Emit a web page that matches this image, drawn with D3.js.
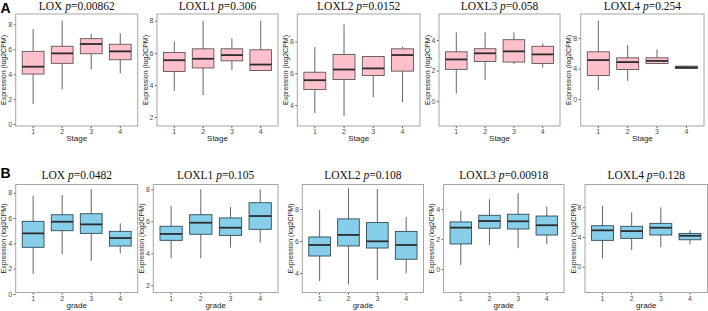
<!DOCTYPE html>
<html>
<head>
<meta charset="utf-8">
<script src="https://cdn.jsdelivr.net/npm/d3@7"></script>
<style>
  body { margin: 0; background: #fff; }
  svg { display: block; }
</style>
</head>
<body>
<svg id="chart" width="708" height="311"></svg>
<script>
// genes and p values
const genes = ["LOX", "LOXL1", "LOXL2", "LOXL3", "LOXL4"];
const stagePValues = ["0.00862", "0.306", "0.0152", "0.058", "0.254"];
const gradePValues = ["0.0482", "0.105", "0.108", "0.00918", "0.128"];
const groups = ["1", "2", "3", "4"];

// y ticks and domains per gene
const yTicks = [[0, 2, 4, 6, 8], [2, 4, 6, 8], [4, 6, 8], [0, 2, 4], [0, 4, 8]];
const stageDomains = [[-0.16, 8.83], [1.44, 8.42], [2.68, 9.72], [-1.62, 5.7], [-3.56, 11.16]];
const gradeDomains = [[0.12, 8.65], [1.55, 8.3], [2.78, 9.53], [-1.54, 5.62], [-3.47, 11.07]];

// box stats: [min, q1, median, q3, max]
const loxStage = [[1.6, 4.01, 4.6, 5.83, 7.62], [2.78, 4.87, 5.67, 6.24, 8.29], [4.39, 5.64, 6.42, 6.85, 7.22], [4.07, 5.16, 5.83, 6.4, 7.28]];
const loxl1Stage = [[3.63, 4.84, 5.54, 6.02, 6.71], [3.36, 5.06, 5.63, 6.25, 8.0], [4.92, 5.5, 5.86, 6.25, 6.9], [4.9, 4.9, 5.27, 6.19, 8.0]];
const loxl2Stage = [[3.5, 4.97, 5.56, 6.06, 7.64], [3.29, 5.6, 6.23, 7.18, 9.07], [4.5, 5.85, 6.3, 7.05, 7.07], [4.17, 6.13, 7.14, 7.53, 7.66]];
const loxl3Stage = [[0.5, 2.08, 2.73, 3.23, 4.5], [1.38, 2.6, 3.13, 3.43, 4.5], [2.43, 2.56, 3.26, 4.02, 4.5], [2.18, 2.47, 3.06, 3.59, 3.78]];
const loxl4Stage = [[1.15, 3.08, 5.1, 6.19, 10.28], [2.37, 3.87, 4.84, 5.4, 7.07], [4.66, 4.66, 5.0, 5.4, 6.5], [4.0, 4.0, 4.14, 4.31, 4.35]];

const loxGrade = [[1.58, 3.69, 4.79, 5.74, 7.74], [3.16, 5.0, 5.71, 6.26, 7.82], [2.61, 4.79, 5.5, 6.34, 8.29], [3.21, 3.79, 4.42, 4.95, 5.58]];
const loxl1Grade = [[3.69, 4.81, 5.21, 5.69, 6.96], [3.69, 5.19, 5.91, 6.41, 8.0], [4.35, 5.12, 5.6, 6.21, 6.89], [4.66, 5.5, 6.33, 7.16, 8.0]];
const loxl2Grade = [[3.5, 5.06, 5.75, 6.25, 7.94], [3.29, 5.69, 6.38, 7.38, 9.29], [3.56, 5.56, 5.98, 7.15, 9.25], [3.98, 4.86, 5.75, 6.6, 7.5]];
const loxl3Grade = [[0.29, 1.68, 2.76, 3.14, 3.87], [1.61, 2.72, 3.2, 3.58, 4.64], [1.39, 2.67, 3.18, 3.65, 5.04], [1.66, 2.27, 2.92, 3.53, 4.15]];
const loxl4Grade = [[1.13, 3.55, 4.9, 5.52, 8.21], [2.25, 3.82, 4.8, 5.44, 7.32], [2.61, 4.27, 5.25, 5.84, 7.99], [3.01, 3.63, 4.17, 4.49, 4.94]];

const stageStats = [loxStage, loxl1Stage, loxl2Stage, loxl3Stage, loxl4Stage];
const gradeStats = [loxGrade, loxl1Grade, loxl2Grade, loxl3Grade, loxl4Grade];

// layout of the two rows
const rows = [
    {
        tag: "A", xTitle: "Stage", fill: "#ffc0cb", stroke: "#5e5458",
        top: 14, bottom: 126, titleY: 9.5, tagY: 12.5,
        lefts: [15.7, 157, 297.3, 439, 580.7],
        rights: [137.7, 278, 420, 560, 704],
        stats: stageStats, domains: stageDomains, pvals: stagePValues
    },
    {
        tag: "B", xTitle: "grade", fill: "#87ceeb", stroke: "#2e4a56",
        top: 184.5, bottom: 292.5, titleY: 179, tagY: 178,
        lefts: [15.7, 153.3, 302.3, 443.6, 585],
        rights: [137.7, 278, 423.5, 564, 707.5],
        stats: gradeStats, domains: gradeDomains, pvals: gradePValues
    }
];

const svg = d3.select("#chart");

rows.forEach(row => {
    svg.append("text")
        .attr("x", 0.5)
        .attr("y", row.tagY)
        .style("font-family", "Liberation Sans, Arial, sans-serif")
        .style("font-weight", "bold")
        .style("font-size", "14px")
        .text(row.tag);

    genes.forEach((gene, gi) => {
        const left = row.lefts[gi], right = row.rights[gi];
        const g = svg.append("g");

        const x = d3.scaleBand()
            .domain(groups)
            .range([left, right])
            .paddingInner(0.25)
            .paddingOuter(0.225);

        const y = d3.scaleLinear()
            .domain(row.domains[gi])
            .range([row.bottom, row.top]);

        // title
        const title = g.append("text")
            .attr("x", (left + right) / 2)
            .attr("y", row.titleY)
            .attr("text-anchor", "middle")
            .style("font-family", "Liberation Serif, Times New Roman, serif")
            .style("font-size", "11.5px")
            .attr("fill", "#111");
        title.append("tspan").text(gene + " ");
        title.append("tspan").style("font-style", "italic").text("p");
        title.append("tspan").text("=" + row.pvals[gi]);

        // y axis
        const yAxis = g.append("g")
            .attr("transform", `translate(${left},0)`)
            .call(d3.axisLeft(y).tickValues(yTicks[gi]).tickSize(2).tickPadding(1.5).tickFormat(d3.format("d")));
        yAxis.select(".domain").remove();
        yAxis.selectAll(".tick line").attr("stroke", "#333").attr("stroke-width", 0.8);
        yAxis.selectAll(".tick text")
            .attr("fill", "#4d4d4d")
            .style("font-family", "Liberation Sans, Arial, sans-serif")
            .style("font-size", "7px");

        // x axis
        const xAxis = g.append("g")
            .attr("transform", `translate(0,${row.bottom})`)
            .call(d3.axisBottom(x).tickSize(2).tickPadding(1.5));
        xAxis.select(".domain").remove();
        xAxis.selectAll(".tick line").attr("stroke", "#333").attr("stroke-width", 0.8);
        xAxis.selectAll(".tick text")
            .attr("fill", "#4d4d4d")
            .style("font-family", "Liberation Sans, Arial, sans-serif")
            .style("font-size", "7px");

        // axis titles
        g.append("text")
            .attr("x", (left + right) / 2)
            .attr("y", row.bottom + 15)
            .attr("text-anchor", "middle")
            .style("font-family", "Liberation Sans, Arial, sans-serif")
            .style("font-size", "8px")
            .attr("fill", "#222")
            .text(row.xTitle);

        g.append("text")
            .attr("transform", `translate(${left - 9.5},${(row.top + row.bottom) / 2}) rotate(-90)`)
            .attr("text-anchor", "middle")
            .style("font-family", "Liberation Sans, Arial, sans-serif")
            .style("font-size", "7px")
            .attr("fill", "#222")
            .text("Expression (log2CPM)");

        // boxes
        const boxes = g.selectAll(".box")
            .data(row.stats[gi])
            .enter().append("g")
            .attr("class", "box");

        boxes.append("line")
            .attr("x1", (d, i) => x(groups[i]) + x.bandwidth() / 2)
            .attr("x2", (d, i) => x(groups[i]) + x.bandwidth() / 2)
            .attr("y1", d => y(d[0]))
            .attr("y2", d => y(d[4]))
            .attr("stroke", "#666")
            .attr("stroke-width", 1);

        boxes.append("rect")
            .attr("x", (d, i) => x(groups[i]))
            .attr("width", x.bandwidth())
            .attr("y", d => y(d[3]))
            .attr("height", d => Math.max(0.5, y(d[1]) - y(d[3])))
            .attr("fill", row.fill)
            .attr("stroke", row.stroke)
            .attr("stroke-width", 0.9);

        boxes.append("line")
            .attr("x1", (d, i) => x(groups[i]))
            .attr("x2", (d, i) => x(groups[i]) + x.bandwidth())
            .attr("y1", d => y(d[2]))
            .attr("y2", d => y(d[2]))
            .attr("stroke", "#2b2b2b")
            .attr("stroke-width", 1.8);

        // panel border
        g.append("rect")
            .attr("x", left)
            .attr("y", row.top)
            .attr("width", right - left)
            .attr("height", row.bottom - row.top)
            .attr("fill", "none")
            .attr("stroke", "#a6a6a6")
            .attr("stroke-width", 1);
    });
});
</script>
</body>
</html>
